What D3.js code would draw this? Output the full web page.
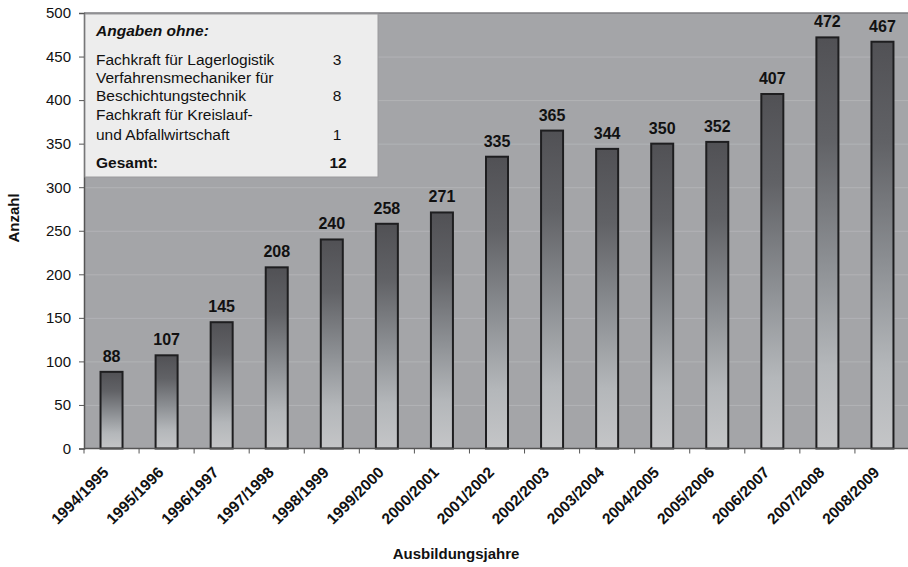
<!DOCTYPE html>
<html><head><meta charset="utf-8">
<script src="https://cdn.jsdelivr.net/npm/d3@7/dist/d3.min.js"></script>
<style>
html,body{margin:0;padding:0;background:#fff;}
svg{display:block;font-family:"Liberation Sans",Arial,sans-serif;}
</style></head>
<body><svg id="chart" width="908" height="567"></svg>
<script>
const categories = ["1994/1995","1995/1996","1996/1997","1997/1998","1998/1999","1999/2000","2000/2001","2001/2002","2002/2003","2003/2004","2004/2005","2005/2006","2006/2007","2007/2008","2008/2009"];
const values = [88,107,145,208,240,258,271,335,365,344,350,352,407,472,467];
const yTicks = [0,50,100,150,200,250,300,350,400,450,500];
const noteTitle = "Angaben ohne:";
const noteLines = [
  {text:"Fachkraft für Lagerlogistik", n:"3"},
  {text:"Verfahrensmechaniker für", n:""},
  {text:"Beschichtungstechnik", n:"8"},
  {text:"Fachkraft für Kreislauf-", n:""},
  {text:"und Abfallwirtschaft", n:"1"}
];
const noteTotal = {text:"Gesamt:", n:"12"};

(function(){
const svg = d3.select("#chart");
const mLeft = 84, mTop = 13, mBottom = 448.5, mRight = 910;

const x = d3.scaleBand().domain(categories).range([mLeft, mRight]).paddingInner(0).paddingOuter(0);
const y = d3.scaleLinear().domain([0, 500]).range([mBottom, mTop]);

const defs = svg.append("defs");
const grad = defs.append("linearGradient").attr("id","barGrad").attr("x1",0).attr("y1",0).attr("x2",0).attr("y2",1);
grad.append("stop").attr("offset","0%").attr("stop-color","#515155");
grad.append("stop").attr("offset","25%").attr("stop-color","#616266");
grad.append("stop").attr("offset","55%").attr("stop-color","#8d9094");
grad.append("stop").attr("offset","80%").attr("stop-color","#b4b7ba");
grad.append("stop").attr("offset","100%").attr("stop-color","#c4c5c7");

svg.append("rect").attr("x", mLeft).attr("y", mTop).attr("width", mRight-mLeft).attr("height", mBottom-mTop).attr("fill","#a4a5a8");
svg.append("g").selectAll("line").data(yTicks.filter(d=>d>0 && d<500)).join("line")
  .attr("x1", mLeft).attr("x2", mRight).attr("y1", d=>y(d)+0.5).attr("y2", d=>y(d)+0.5)
  .attr("stroke","#b2b3b6").attr("stroke-width",1);
svg.append("line").attr("x1",mLeft).attr("x2",mRight).attr("y1",mTop).attr("y2",mTop).attr("stroke","#7c7d80").attr("stroke-width",1.5);

const bw = 22;
svg.append("g").selectAll("rect").data(values).join("rect")
  .attr("x",(d,i)=>x(categories[i]) + x.bandwidth()/2 - bw/2)
  .attr("y", d=>y(d))
  .attr("width", bw)
  .attr("height", d=>mBottom - y(d))
  .attr("fill","url(#barGrad)")
  .attr("stroke","#1e1e20").attr("stroke-width",2);

svg.append("g").selectAll("text").data(values).join("text")
  .attr("x",(d,i)=>x(categories[i]) + x.bandwidth()/2)
  .attr("y", d=>y(d) - 10)
  .attr("text-anchor","middle").attr("font-weight","bold").attr("font-size","16px").attr("fill","#111")
  .text(d=>d);

const yAxis = d3.axisLeft(y).tickValues(yTicks).tickSize(5).tickPadding(8);
const gy = svg.append("g").attr("transform",`translate(${mLeft},0)`).call(yAxis);
gy.select(".domain").attr("stroke","#555").attr("stroke-width",1.5);
gy.selectAll(".tick line").attr("stroke","#555");
gy.selectAll(".tick text").attr("font-size","15px").attr("fill","#111").attr("font-family","Liberation Sans, Arial, sans-serif");

const gx = svg.append("g").attr("transform",`translate(0,${mBottom})`);
gx.append("line").attr("x1",mLeft).attr("x2",mRight).attr("y1",0).attr("y2",0).attr("stroke","#555").attr("stroke-width",1.5);
const boundaries = categories.map(c=>x(c)).concat([mRight]);
gx.selectAll("line.tk").data(boundaries).join("line").attr("class","tk")
  .attr("x1",d=>d).attr("x2",d=>d).attr("y1",0).attr("y2",5).attr("stroke","#555");
gx.selectAll("text").data(categories).join("text")
  .attr("transform", d=>`translate(${x(d)+x.bandwidth()/2-2},${25}) rotate(-45)`)
  .attr("text-anchor","end").attr("font-weight","bold").attr("font-size","15.5px").attr("fill","#111")
  .text(d=>d);

svg.append("text").attr("transform","translate(19,218) rotate(-90)").attr("text-anchor","middle")
  .attr("font-weight","bold").attr("font-size","15px").attr("fill","#111").text("Anzahl");
svg.append("text").attr("x",456).attr("y",559).attr("text-anchor","middle")
  .attr("font-weight","bold").attr("font-size","15px").attr("fill","#111").text("Ausbildungsjahre");

const box = svg.append("g");
box.append("rect").attr("x",mLeft+1).attr("y",mTop+1).attr("width",293).attr("height",163)
  .attr("fill","#ededed").attr("stroke","#9a9a9c").attr("stroke-width",1);
box.append("text").attr("x",96).attr("y",36).attr("font-weight","bold").attr("font-style","italic")
  .attr("font-size","15.5px").attr("fill","#111").text(noteTitle);
const lineY = [64.5,83,101,120,139.5];
noteLines.forEach((l,i)=>{
  box.append("text").attr("x",96).attr("y",lineY[i]).attr("font-size","15.5px").attr("fill","#111").text(l.text);
  if(l.n) box.append("text").attr("x",337).attr("y",lineY[i]).attr("text-anchor","middle").attr("font-size","15.5px").attr("fill","#111").text(l.n);
});
box.append("text").attr("x",96).attr("y",168).attr("font-weight","bold").attr("font-size","15.5px").attr("fill","#111").text(noteTotal.text);
box.append("text").attr("x",338).attr("y",168).attr("text-anchor","middle").attr("font-weight","bold").attr("font-size","15.5px").attr("fill","#111").text(noteTotal.n);
})();
</script></body></html>
